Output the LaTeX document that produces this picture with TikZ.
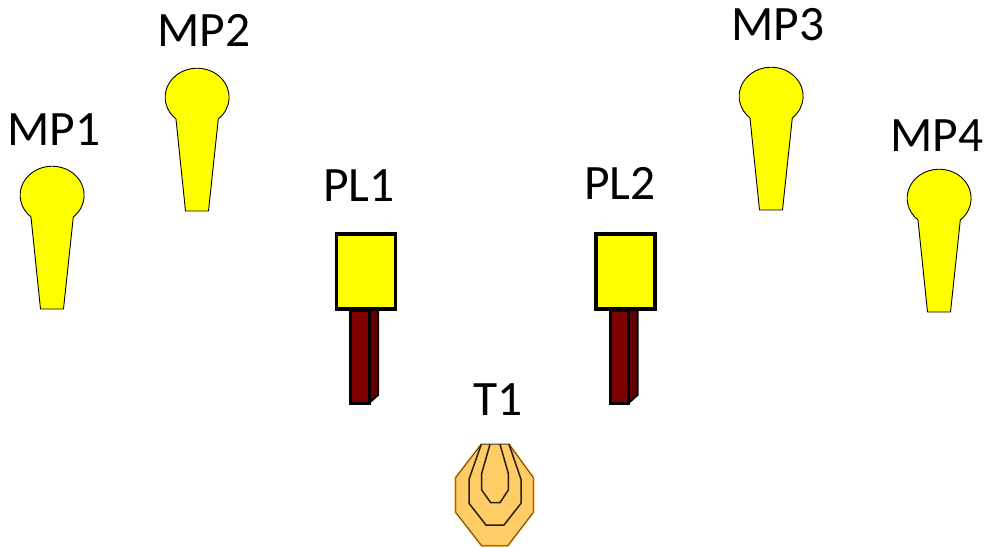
\documentclass[tikz,border=0pt]{standalone}
\usepackage{fontspec}
\setmainfont{Carlito}
\definecolor{mpyellow}{HTML}{FFFF00}
\definecolor{stemred}{HTML}{7F0000}
\definecolor{stemside}{HTML}{660000}
\definecolor{targetfill}{HTML}{FFCC66}
\definecolor{targetedge}{HTML}{FFC35A}
\tikzset{
  labeltext/.style={font=\fontsize{49.5}{50}\selectfont, anchor=base, inner sep=0pt, text=black},
  mpshape/.style={fill=mpyellow, draw=black, line width=0.9pt, line join=round},
  plbox/.style={fill=mpyellow, draw=black, line width=3.2pt, line join=miter},
  stemfront/.style={fill=stemred, draw=black, line width=3pt, line join=miter},
  stemback/.style={fill=stemside, draw=black, line width=2pt, line join=miter},
  targetline/.style={draw=black!85!targetfill, line width=1.5pt, line join=round},
  targetrim/.style={draw=black!70!targetfill, line width=0.8pt, line join=round},
  mp/.pic={
    \path[mpshape] (21.3,22) arc[start angle=48.6, end angle=-228.6, x radius=32, y radius=29]
      -- (-11.5,114) -- (11.5,114) -- cycle;
  },
  pl/.pic={
    \path[stemback] (18.5,0) -- (27.5,0) -- (27.5,85) -- (18.5,93) -- cycle;
    \path[stemfront] (0,0) rectangle (18.5,93);
    \path[plbox] (-14,-76) rectangle (45,-1);
  }
}
\begin{document}
\begin{tikzpicture}[x=1pt,y=-1pt]
\useasboundingbox (0,0) rectangle (990,548);
\fill[white] (0,0) rectangle (990,548);
\pic at (52,195) {mp};
\pic at (197,97) {mp};
\pic at (771,96) {mp};
\pic at (939,198) {mp};
\pic at (350.5,310) {pl};
\pic at (610,310) {pl};
% target
\path[fill=targetfill, draw=targetedge, line width=2.6pt, line join=round]
  (481.3,444.3) -- (509,444.3) -- (533.3,477.7) -- (533.3,512.3) -- (507.7,545.7)
  -- (481.7,545.7) -- (455.7,512.3) -- (455.7,477.7) -- cycle;
\path[targetrim]
  (481.3,444.3) -- (509,444.3) -- (533.3,477.7) -- (533.3,512.3) -- (507.7,545.7)
  -- (481.7,545.7) -- (455.7,512.3) -- (455.7,477.7) -- cycle;
\path[targetline]
  (481.3,444.3) -- (469,479.3) -- (469,503.3) -- (486,525) -- (504,525)
  -- (521,503.3) -- (521,479.3) -- (509,444.3);
\path[targetline]
  (490,444.3) -- (481.7,473.3) -- (481.7,490) -- (490.7,502.7) -- (500,502.7)
  -- (508.3,490) -- (508.3,473.3) -- (500,444.3);
\node[labeltext] (mp1) at (54,146) {MP1};
\node[labeltext] (mp2) at (204,47) {MP2};
\node[labeltext] (pl1) at (359,201) {PL1};
\node[labeltext] (pl2) at (620,200) {PL2};
\node[labeltext] (mp3) at (778,41) {MP3};
\node[labeltext] (mp4) at (937,152) {MP4};
\node[labeltext] (t1) at (498,415) {T1};
\end{tikzpicture}
\end{document}
